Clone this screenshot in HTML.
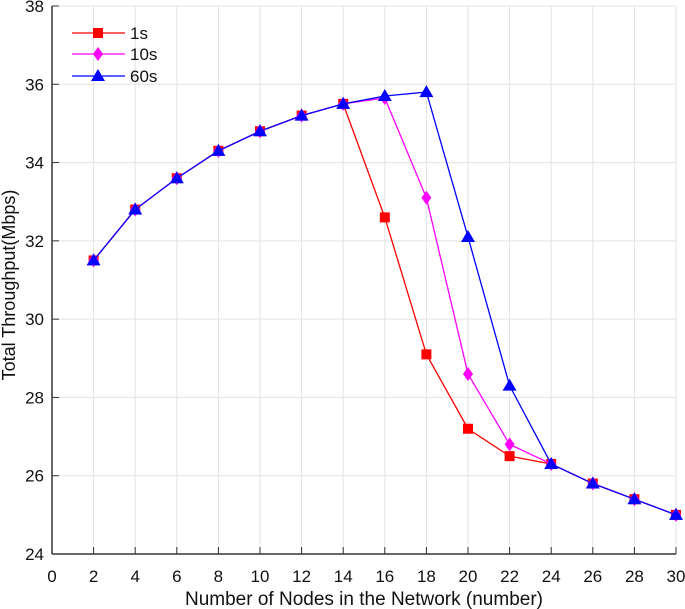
<!DOCTYPE html>
<html><head><meta charset="utf-8"><style>
body{margin:0;background:#fff;}
svg{display:block;font-family:"Liberation Sans",Arial,sans-serif;}
</style></head><body>
<svg id="c" width="685" height="609"></svg>
<script>
const xs=[2,4,6,8,10,12,14,16,18,20,22,24,26,28,30];
const s1=[31.5,32.8,33.6,34.3,34.8,35.2,35.5,32.6,29.1,27.2,26.5,26.3,25.8,25.4,25.0];
const s10=[31.5,32.8,33.6,34.3,34.8,35.2,35.5,35.65,33.1,28.6,26.8,26.3,25.8,25.4,25.0];
const s60=[31.5,32.8,33.6,34.3,34.8,35.2,35.5,35.7,35.8,32.1,28.3,26.3,25.8,25.4,25.0];
const xTicks=[0,2,4,6,8,10,12,14,16,18,20,22,24,26,28,30];
const yTicks=[24,26,28,30,32,34,36,38];
const NS="http://www.w3.org/2000/svg";
const svg=document.getElementById('c');
const X=v=>52+(v-0)*(676-52)/30;
const Y=v=>554-(v-24)*(554-6)/14;
function el(t,a,p){const e=document.createElementNS(NS,t);for(const k in a)e.setAttribute(k,a[k]);(p||svg).appendChild(e);return e;}
const g=el('g',{});


xTicks.forEach(v=>{if(v>0)el('line',{x1:X(v),x2:X(v),y1:Y(24),y2:Y(38),stroke:'#e3e3e3','stroke-width':1},g);});
yTicks.forEach(v=>{if(v>24)el('line',{x1:X(0),x2:X(30),y1:Y(v),y2:Y(v),stroke:'#e3e3e3','stroke-width':1},g);});
const ax=el('g',{});


el('line',{x1:X(0),x2:X(0),y1:Y(38),y2:Y(24),stroke:'#333','stroke-width':1.5},ax);
el('line',{x1:X(0),x2:X(30),y1:Y(24),y2:Y(24),stroke:'#333','stroke-width':1.5},ax);
xTicks.forEach(v=>{el('line',{x1:X(v),x2:X(v),y1:Y(24),y2:Y(24)-7,stroke:'#333'},ax);
 const t=el('text',{x:X(v),y:582,'text-anchor':'middle','font-size':17,fill:'#111'},ax);t.textContent=v;
 });
yTicks.forEach(v=>{el('line',{x1:X(0),x2:X(0),y1:Y(v),y2:Y(v),stroke:'#333'},ax);
 el('line',{x1:X(0),x2:X(0)+7,y1:Y(v),y2:Y(v),stroke:'#333'},ax);
 const t=el('text',{x:44,y:Y(v)+6,'text-anchor':'end','font-size':17,fill:'#111'},ax);t.textContent=v;
 });
const xt=el('text',{x:364,y:605,'text-anchor':'middle','font-size':19,fill:'#111'});xt.textContent='Number of Nodes in the Network (number)';

const yt=el('text',{x:0,y:0,'text-anchor':'middle','font-size':18,fill:'#111',transform:'translate(15,285) rotate(-90)'});yt.textContent='Total Throughput(Mbps)';

function marker(type,cx,cy,col,p){
 if(type==='sq')return el('rect',{x:cx-5,y:cy-5,width:10,height:10,fill:col},p);
 if(type==='di')return el('polygon',{points:`${cx},${cy-7} ${cx+5},${cy} ${cx},${cy+7} ${cx-5},${cy}`,fill:col},p);
 return el('polygon',{points:`${cx},${cy-7} ${cx+7},${cy+5} ${cx-7},${cy+5}`,fill:col},p);
}
const series=[[s1,'#ff0000','sq','series-1s'],[s10,'#ff00ff','di','series-10s'],[s60,'#0000ff','tr','series-60s']];
series.forEach(([d,col,m,name])=>{
 const sg=el('g',{});
 
 
 el('polyline',{points:xs.map((x,i)=>X(x)+','+Y(d[i])).join(' '),fill:'none',stroke:col,'stroke-width':1.3},sg);
 xs.forEach((x,i)=>{const mk=marker(m,X(x),Y(d[i]),col,sg);
  });
});
const lg=el('g',{});


[['1s','#ff0000','sq',33],['10s','#ff00ff','di',54],['60s','#0000ff','tr',76]].forEach(([lab,col,m,y])=>{
 const e=el('g',{},lg);
 
 
 el('line',{x1:72,x2:125,y1:y,y2:y,stroke:col,'stroke-width':1.3},e);
 marker(m,98,y,col,e);
 const t=el('text',{x:130,y:y+6,'font-size':17,fill:'#111'},e);t.textContent=lab;
});
</script>
</body></html>
